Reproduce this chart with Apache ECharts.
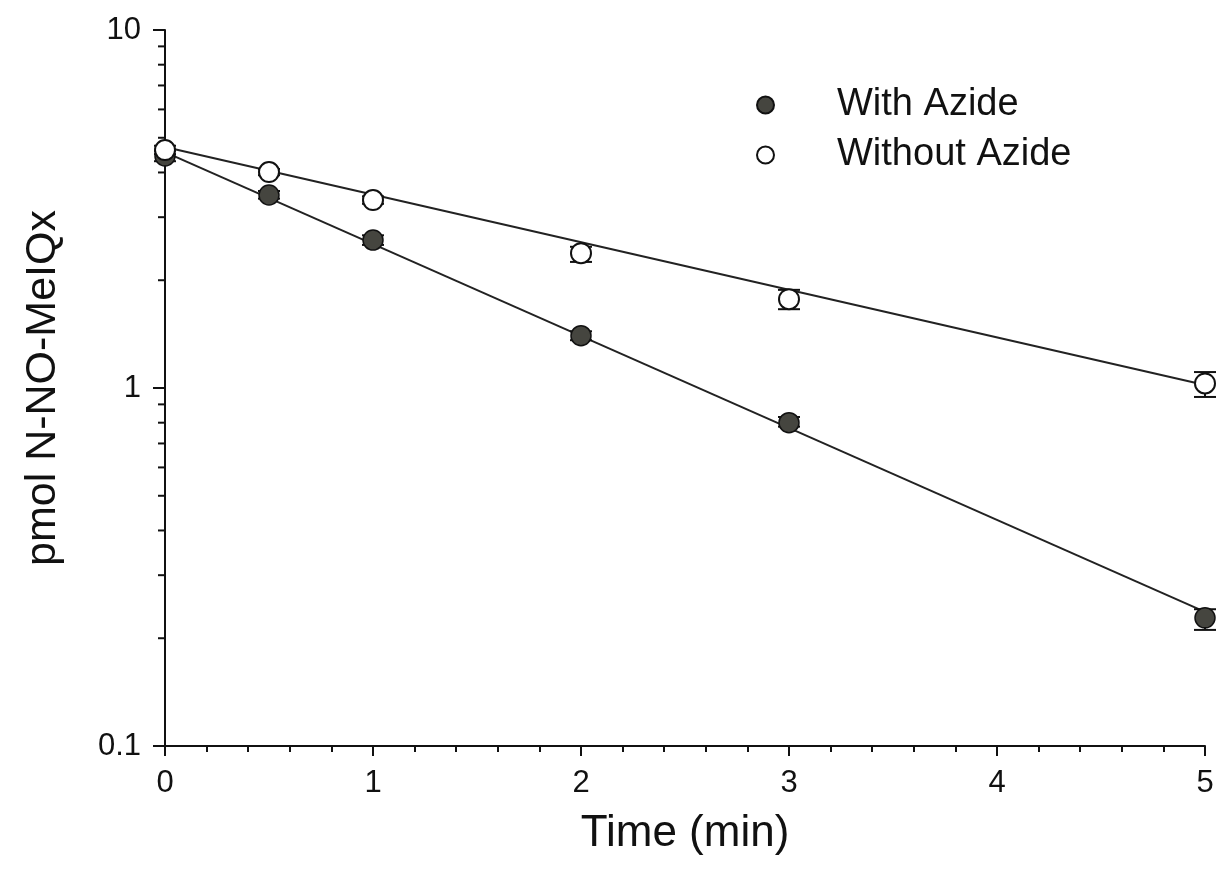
<!DOCTYPE html>
<html>
<head>
<meta charset="utf-8">
<script src="https://cdn.jsdelivr.net/npm/echarts@6/dist/echarts.min.js"></script>
<style>
  html, body { margin: 0; padding: 0; background: #fff; }
  #main { width: 1218px; height: 886px; }
</style>
</head>
<body>
<div id="main"></div>
<script>
const FONT = "'Liberation Sans', Arial, sans-serif";

// time points (min)
const times = [0, 0.5, 1, 2, 3, 5];

// pmol N-NO-MeIQx, means and error ranges [low, high]
const withAzide = [4.45, 3.46, 2.59, 1.40, 0.80, 0.228];
const withAzideErr = [[4.3, 4.6], [3.38, 3.55], [2.51, 2.67], [1.36, 1.44], [0.78, 0.83], [0.211, 0.241]];
const withoutAzide = [4.62, 4.01, 3.35, 2.38, 1.77, 1.03];
const withoutAzideErr = [[4.5, 4.75], [3.93, 4.09], [3.27, 3.43], [2.25, 2.48], [1.66, 1.88], [0.944, 1.108]];

// fitted exponential decay lines, endpoints at t = 0 and t = 5
const fitTimes = [0, 5];
const withAzideFit = [4.56, 0.237];
const withoutAzideFit = [4.71, 1.02];

// log-axis minor ticks (2..9 in each decade)
const minorTickVals = [0.2, 0.3, 0.4, 0.5, 0.6, 0.7, 0.8, 0.9, 2, 3, 4, 5, 6, 7, 8, 9];

function pairs(xs, ys) {
  return xs.map((x, i) => [x, ys[i]]);
}

function errData(xs, errs) {
  return xs.map((x, i) => [x, errs[i][0], errs[i][1]]);
}

function renderErrorBar(params, api) {
  const x = api.value(0);
  const lo = api.coord([x, api.value(1)]);
  const hi = api.coord([x, api.value(2)]);
  const half = 11;
  const style = { stroke: '#111', lineWidth: 2 };
  return {
    type: 'group',
    children: [
      { type: 'line', shape: { x1: lo[0], y1: lo[1], x2: hi[0], y2: hi[1] }, style: style },
      { type: 'line', shape: { x1: lo[0] - half, y1: lo[1], x2: lo[0] + half, y2: lo[1] }, style: style },
      { type: 'line', shape: { x1: hi[0] - half, y1: hi[1], x2: hi[0] + half, y2: hi[1] }, style: style }
    ]
  };
}

function renderMinorTick(params, api) {
  const p = api.coord([0, api.value(0)]);
  return {
    type: 'line',
    shape: { x1: p[0] - 7, y1: p[1], x2: p[0], y2: p[1] },
    style: { stroke: '#111', lineWidth: 2 }
  };
}

const chart = echarts.init(document.getElementById('main'));

const option = {
  backgroundColor: '#fff',
  animation: false,
  grid: { left: 165, right: 13, top: 30, bottom: 140, containLabel: false },
  legend: {
    left: 751,
    top: 80,
    orient: 'vertical',
    itemWidth: 17,
    itemHeight: 17,
    itemGap: 10,
    icon: 'circle',
    data: ['With Azide', 'Without Azide'],
    textStyle: { fontFamily: FONT, fontSize: 38, color: '#111', lineHeight: 40, padding: [0, 0, 0, 58] }
  },
  xAxis: {
    type: 'value',
    min: 0,
    max: 5,
    interval: 1,
    name: 'Time (min)',
    nameLocation: 'middle',
    nameGap: 66,
    nameTextStyle: { fontFamily: FONT, fontSize: 44, color: '#111' },
    axisLine: { lineStyle: { color: '#111', width: 2 } },
    axisTick: { length: 10, lineStyle: { color: '#111', width: 2 } },
    minorTick: { show: true, splitNumber: 5, length: 6, lineStyle: { color: '#111', width: 2 } },
    axisLabel: { fontFamily: FONT, fontSize: 31, color: '#111', margin: 22 },
    splitLine: { show: false }
  },
  yAxis: {
    type: 'log',
    logBase: 10,
    min: 0.1,
    max: 10,
    name: 'pmol N-NO-MeIQx',
    nameLocation: 'middle',
    nameGap: 100,
    nameTextStyle: { fontFamily: FONT, fontSize: 43, color: '#111' },
    axisLine: { show: true, lineStyle: { color: '#111', width: 2 } },
    axisTick: { show: true, length: 12, lineStyle: { color: '#111', width: 2 } },
    axisLabel: { fontFamily: FONT, fontSize: 31, color: '#111', margin: 24 },
    splitLine: { show: false }
  },
  series: [
    {
      type: 'custom',
      name: 'minorTicks',
      renderItem: renderMinorTick,
      data: minorTickVals.map(v => [v]),
      encode: { y: 0 },
      clip: false,
      silent: true,
      z: 1
    },
    {
      type: 'line',
      name: 'fitWith',
      data: pairs(fitTimes, withAzideFit),
      showSymbol: false,
      lineStyle: { color: '#222', width: 2 },
      silent: true,
      z: 2
    },
    {
      type: 'line',
      name: 'fitWithout',
      data: pairs(fitTimes, withoutAzideFit),
      showSymbol: false,
      lineStyle: { color: '#222', width: 2 },
      silent: true,
      z: 2
    },
    {
      type: 'custom',
      name: 'errWith',
      renderItem: renderErrorBar,
      data: errData(times, withAzideErr),
      encode: { x: 0, y: [1, 2] },
      clip: false,
      z: 3
    },
    {
      type: 'custom',
      name: 'errWithout',
      renderItem: renderErrorBar,
      data: errData(times, withoutAzideErr),
      encode: { x: 0, y: [1, 2] },
      clip: false,
      z: 3
    },
    {
      type: 'scatter',
      name: 'With Azide',
      data: pairs(times, withAzide),
      symbol: 'circle',
      symbolSize: 20,
      itemStyle: { color: '#45453f', borderColor: '#111', borderWidth: 1.5, opacity: 1 },
      clip: false,
      z: 5
    },
    {
      type: 'scatter',
      name: 'Without Azide',
      data: pairs(times, withoutAzide),
      symbol: 'circle',
      symbolSize: 20,
      itemStyle: { color: '#fff', borderColor: '#111', borderWidth: 2, opacity: 1 },
      clip: false,
      z: 5
    }
  ]
};

chart.setOption(option);
</script>
</body>
</html>
